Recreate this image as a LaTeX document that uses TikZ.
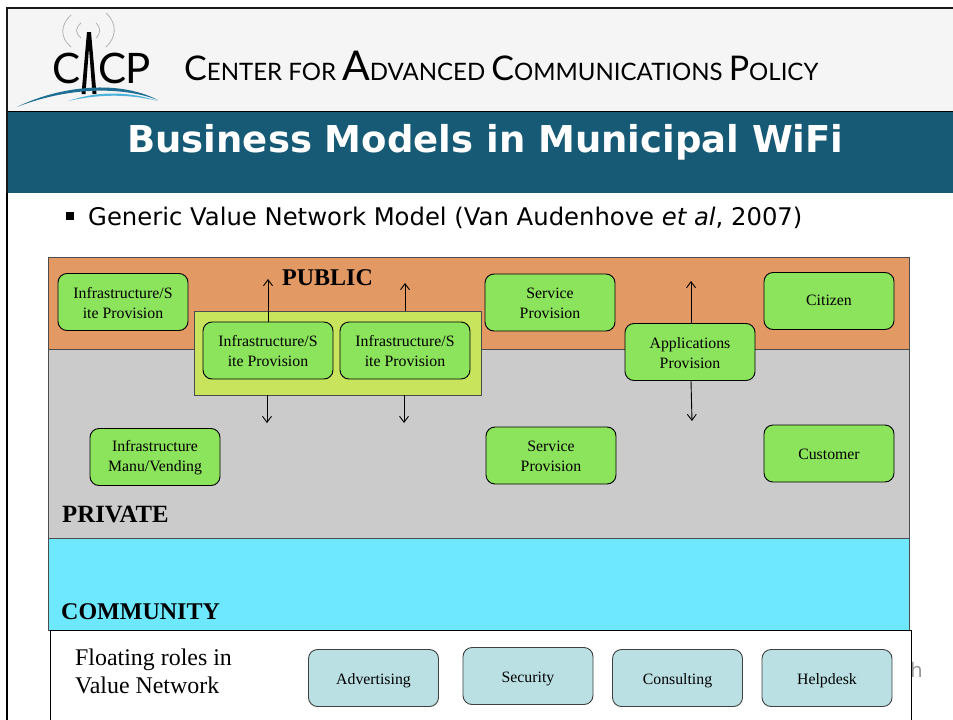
\documentclass[tikz,border=0pt]{standalone}
\usepackage{fontspec}
\setmainfont{Liberation Serif}
\newfontfamily\vfont{DejaVu Sans}
\newfontfamily\hfont{Lato}
\usetikzlibrary{arrows.meta}
\definecolor{hdrbg}{HTML}{F5F5F5}
\definecolor{band}{HTML}{165A76}
\definecolor{pubc}{HTML}{E29964}
\definecolor{privc}{HTML}{CBCBCB}
\definecolor{commc}{HTML}{6EE8FF}
\definecolor{greenbox}{HTML}{8CE35C}
\definecolor{limebox}{HTML}{C8E35C}
\definecolor{bluebox}{HTML}{BAE0E3}
\definecolor{arcblue}{HTML}{1F6F94}
\definecolor{arclight}{HTML}{4FB3DC}
\tikzset{
 role/.style={draw=black,line width=.9pt,rounded corners=9pt,fill=greenbox,minimum width=130pt,minimum height=57pt,align=center,inner sep=0pt,font=\fontsize{15.8}{20}\selectfont},
 tworole/.style={role,text height=33pt},
 floatrole/.style={role,fill=bluebox,draw=black!75,text height=15.5pt,text depth=3.3pt},
 lbl/.style={font=\fontsize{24}{27}\selectfont\bfseries,anchor=base west,inner sep=0pt},
 arr/.style={draw=black,line width=.9pt,-{Straight Barb[length=6pt,width=9pt]}},
 hs/.style={font=\hfont\fontsize{24}{27}\selectfont,anchor=base west,inner sep=0pt},
 wave/.style={draw=black!30,line width=.8pt}
}
\newcommand{\hdrtext}{{\fontsize{34}{33}\selectfont C}ENTER FOR {\fontsize{41}{39}\selectfont A}DVANCED {\fontsize{34}{33}\selectfont C}OMMUNICATIONS {\fontsize{34}{33}\selectfont P}OLICY}
\begin{document}
\begin{tikzpicture}[x=1pt,y=-1pt]
\useasboundingbox (0,0) rectangle (953,720);
\fill[white] (0,0) rectangle (953,720);
% header
\fill[hdrbg] (8,9) rectangle (953,111);
\fill[band] (8,111) rectangle (953,193);
\draw[black,line width=.9pt] (8,111) -- (953,111);
\draw[black!90,line width=2pt] (953,8) -- (7,8) -- (7,193);
\draw[black,line width=1.5pt] (7,193) -- (7,720);
% logo
\node[font=\hfont\fontsize{42}{42}\selectfont,anchor=base,inner sep=0pt] (lc) at (67,83) {C};
\node[font=\hfont\fontsize{42}{42}\selectfont,anchor=base,inner sep=0pt] (lc2) at (113,83) {C};
\node[font=\hfont\fontsize{42}{42}\selectfont,anchor=base,inner sep=0pt] (lp) at (138,83) {P};
\fill[black] (87,32) -- (91,32) -- (96.5,94) -- (92.5,94) -- (89,48) -- (85.5,94) -- (81.5,94) -- cycle;
\fill[arcblue] (17,107) .. controls (55,88) and (115,78) .. (158,100) .. controls (115,84) and (60,90) .. (17,107) -- cycle;
\fill[arclight] (68,101) .. controls (95,92) and (125,90) .. (158,101) .. controls (125,93) and (95,95) .. (68,101) -- cycle;
\draw[wave] (71,15) .. controls (60,25) and (60,38) .. (71,47);
\draw[wave] (106,13) .. controls (118,24) and (116,38) .. (106,47);
\draw[wave] (81,23) .. controls (75,28) and (75,33) .. (81,38);
\draw[wave] (96,23) .. controls (101,28) and (101,33) .. (96,38);
\node[hs] (hdr) at (184,80) {\hdrtext};
\node[font=\vfont\bfseries\fontsize{37}{40}\selectfont,text=white,inner sep=0pt] (title) at (485.5,142) {Business Models in Municipal WiFi};
% bullet
\fill[black] (66,212) rectangle (74,220);
\node[font=\vfont\fontsize{24.3}{28}\selectfont,anchor=base west,inner sep=0pt] (sub) at (88,225) {Generic Value Network Model (Van Audenhove \textit{et al}, 2007)};
% bands
\filldraw[fill=pubc,draw=black!70,line width=.8pt] (48.5,257.5) rectangle (909.5,349.5);
\filldraw[fill=privc,draw=black!70,line width=.8pt] (48.5,349.5) rectangle (909.5,538.5);
\filldraw[fill=commc,draw=black!70,line width=.8pt] (48.5,538.5) rectangle (909.5,630.5);
\filldraw[fill=white,draw=black,line width=.8pt] (50.5,720) -- (50.5,630.5) -- (911,630.5) -- (911,720);
\node[lbl] (pub) at (282,285.5) {PUBLIC};
\node[lbl,font=\fontsize{24.8}{27}\selectfont\bfseries] (priv) at (62,522) {PRIVATE};
\node[lbl] (comm) at (61,619) {COMMUNITY};
% role boxes
\node[tworole] (a) at (123,302) {Infrastructure/S\\ite Provision};
\filldraw[fill=limebox,draw=black!70,line width=.8pt] (194.5,311) rectangle (481,395);
\node[inner sep=0pt,minimum width=286.5pt,minimum height=84pt] (grp) at (337.75,353) {};
\node[tworole] (b) at (268,350.5) {Infrastructure/S\\ite Provision};
\node[tworole] (c) at (405,350.5) {Infrastructure/S\\ite Provision};
\node[tworole] (d) at (550,302.5) {Service\\Provision};
\node[tworole] (e) at (690,352) {Applications\\Provision};
\node[role,text height=10pt] (f) at (829,301) {Citizen};
\node[tworole] (g) at (155,457) {Infrastructure\\Manu/Vending};
\node[tworole] (h) at (551,455.5) {Service\\Provision};
\node[role,text height=12pt] (i) at (829,453.5) {Customer};
% arrows
\coordinate (t1) at (268,279);
\coordinate (t2) at (405,283);
\coordinate (t3) at (691,281);
\coordinate (b1) at (267,423);
\coordinate (b2) at (404,423);
\coordinate (b3) at (692,421);
\draw[arr] (b.north) -- (t1);
\draw[arr] (grp.north -| c.north) -- (t2);
\draw[arr] ([xshift=1pt]e.north) -- (t3);
\draw[arr] (grp.south -| b1) -- (b1);
\draw[arr] (grp.south -| b2) -- (b2);
\draw[arr] ([xshift=1pt]e.south) -- (b3);
% floating
\node[font=\fontsize{23.9}{28}\selectfont,align=left,anchor=north west,inner sep=0pt] (fl) at (75,649) {Floating roles in\\Value Network};
\node[floatrole] (p) at (373.5,678) {Advertising};
\node[floatrole] (q) at (528,676) {Security};
\node[floatrole] (r) at (677.5,678) {Consulting};
\node[floatrole] (s) at (827,678) {Helpdesk};
\begin{scope}
\clip (912,650) rectangle (953,690);
\node[font=\vfont\fontsize{20}{20}\selectfont,text=black!40,anchor=base west,inner sep=0pt] (stub) at (910,677) {h};
\end{scope}
\end{tikzpicture}
\end{document}
